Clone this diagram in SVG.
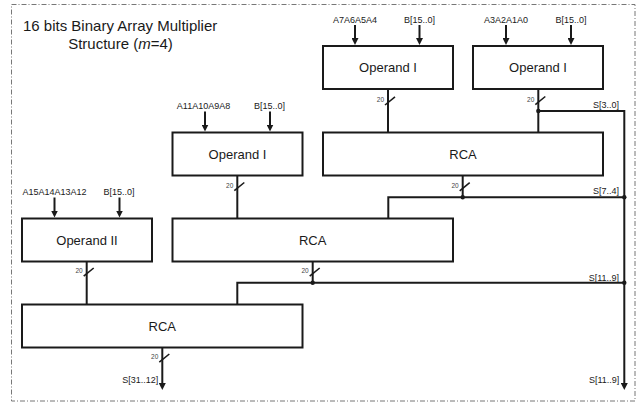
<svg xmlns="http://www.w3.org/2000/svg" width="639" height="403" viewBox="0 0 639 403">
<style>
  text { font-family: "Liberation Sans", Arial, sans-serif; fill: #1a1a1a; }
  .box { fill: #ffffff; stroke: #1a1a1a; stroke-width: 2; }
  .blabel { font-size: 13px; text-anchor: middle; }
  .in { font-size: 9px; text-anchor: middle; }
  .sig { font-size: 9px; text-anchor: end; }
  .w { font-size: 6.5px; text-anchor: end; fill: #444; }
  .ln { fill: none; stroke: #1a1a1a; stroke-width: 2; }
  .arr { fill: none; stroke: #1a1a1a; stroke-width: 2; marker-end: url(#ah); }
  .sl { stroke: #1a1a1a; stroke-width: 1.6; }
  .dot { fill: #1a1a1a; }
  .title { font-size: 15px; }
</style>
<defs>
  <marker id="ah" markerUnits="userSpaceOnUse" markerWidth="8" markerHeight="7" refX="3" refY="3.5" orient="auto">
    <path d="M0,0 L7,3.5 L0,7 z" fill="#1a1a1a"/>
  </marker>
</defs>
<rect x="0" y="0" width="639" height="403" fill="#ffffff"/>
<rect x="11.5" y="4.5" width="623.5" height="396.5" fill="none" stroke="#777" stroke-width="1" stroke-dasharray="5 2 1 2"/>

<g id="title">
  <text class="title" x="23" y="30.5">16 bits Binary Array Multiplier</text>
  <text class="title" x="120.5" y="49" text-anchor="middle">Structure (<tspan font-style="italic">m</tspan>=4)</text>
</g>

<g id="op1a">
  <rect class="box" x="323" y="46" width="130" height="43"/>
  <text class="blabel" x="388" y="72">Operand I</text>
  <text class="in" x="355" y="22.7">A7A6A5A4</text>
  <text class="in" x="419.5" y="22.7">B[15..0]</text>
</g>
<g id="op1b">
  <rect class="box" x="473" y="46" width="130" height="43"/>
  <text class="blabel" x="538" y="72">Operand I</text>
  <text class="in" x="506" y="22.7">A3A2A1A0</text>
  <text class="in" x="571" y="22.7">B[15..0]</text>
</g>
<g id="op1c">
  <rect class="box" x="172.5" y="132.5" width="130" height="43"/>
  <text class="blabel" x="237.5" y="158.5">Operand I</text>
  <text class="in" x="203.5" y="109.3">A11A10A9A8</text>
  <text class="in" x="269.5" y="109.3">B[15..0]</text>
</g>
<g id="rca1">
  <rect class="box" x="323" y="132.5" width="280" height="43"/>
  <text class="blabel" x="463" y="158.5">RCA</text>
</g>
<g id="op2">
  <rect class="box" x="22" y="218.5" width="130" height="43"/>
  <text class="blabel" x="87" y="244.5">Operand II</text>
  <text class="in" x="54.5" y="195.3">A15A14A13A12</text>
  <text class="in" x="119" y="195.3">B[15..0]</text>
</g>
<g id="rca2">
  <rect class="box" x="172.5" y="218.5" width="280.5" height="43"/>
  <text class="blabel" x="312.7" y="244.5">RCA</text>
</g>
<g id="rca3">
  <rect class="box" x="22" y="304.5" width="280.5" height="43"/>
  <text class="blabel" x="162.3" y="330.5">RCA</text>
</g>

<g id="connectors">
  <!-- inputs -->
  <line class="arr" x1="355" y1="25" x2="355" y2="41"/>
  <line class="arr" x1="419.5" y1="25" x2="419.5" y2="41"/>
  <line class="arr" x1="506" y1="25" x2="506" y2="41"/>
  <line class="arr" x1="571" y1="25" x2="571" y2="41"/>
  <line class="arr" x1="205" y1="111.5" x2="205" y2="127.5"/>
  <line class="arr" x1="270" y1="111.5" x2="270" y2="127.5"/>
  <line class="arr" x1="54.5" y1="197.5" x2="54.5" y2="213.5"/>
  <line class="arr" x1="119.5" y1="197.5" x2="119.5" y2="213.5"/>

  <!-- op1a -> rca1 -->
  <line class="ln" x1="388" y1="89" x2="388" y2="132.5"/>
  <line class="sl" x1="385" y1="105" x2="395" y2="96.8"/>
  <text class="w" x="384" y="101.8">20</text>

  <!-- op1b -> rca1, S[3..0] -->
  <line class="ln" x1="538.3" y1="89" x2="538.3" y2="132.5"/>
  <line class="sl" x1="535.3" y1="104.7" x2="545.3" y2="96.5"/>
  <text class="w" x="534.3" y="101.5">20</text>
  <polyline class="ln" points="538.3,111 624.3,111 624.3,385"/>
  <path d="M624.3,385 L624.3,386" class="arr"/>
  <text class="sig" x="619" y="108.3">S[3..0]</text>

  <!-- rca1 -> rca2, S[7..4] -->
  <line class="ln" x1="462.7" y1="175.5" x2="462.7" y2="197.3"/>
  <line class="sl" x1="459.7" y1="190.9" x2="469.7" y2="182.7"/>
  <text class="w" x="458.7" y="187.7">20</text>
  <polyline class="ln" points="624.3,197.3 388.3,197.3 388.3,218.5"/>
  <text class="sig" x="619" y="194.3">S[7..4]</text>

  <!-- op1c -> rca2 -->
  <line class="ln" x1="237.3" y1="175.5" x2="237.3" y2="218.5"/>
  <line class="sl" x1="234.3" y1="190.7" x2="244.3" y2="182.5"/>
  <text class="w" x="233.3" y="187.5">20</text>

  <!-- op2 -> rca3 -->
  <line class="ln" x1="86.7" y1="261.5" x2="86.7" y2="304.5"/>
  <line class="sl" x1="83.7" y1="276.2" x2="93.7" y2="268"/>
  <text class="w" x="82.7" y="273">20</text>

  <!-- rca2 -> rca3, S[11..9] -->
  <line class="ln" x1="312.7" y1="261.5" x2="312.7" y2="282.7"/>
  <line class="sl" x1="309.7" y1="276.2" x2="319.7" y2="268"/>
  <text class="w" x="308.7" y="273">20</text>
  <polyline class="ln" points="624.3,282.7 237.3,282.7 237.3,304.5"/>
  <text class="sig" x="619" y="280.5">S[11..9]</text>

  <!-- rca3 output -->
  <line class="arr" x1="162.3" y1="347.5" x2="162.3" y2="386"/>
  <line class="sl" x1="159.3" y1="362.2" x2="169.3" y2="354"/>
  <text class="w" x="158.3" y="359">20</text>
  <text class="sig" x="158.3" y="383">S[31..12]</text>
  <text class="sig" x="619.3" y="382.7">S[11..9]</text>

  <!-- junction dots -->
  <circle class="dot" cx="538.3" cy="111" r="2.2"/>
  <circle class="dot" cx="462.7" cy="197.3" r="2.2"/>
  <circle class="dot" cx="624.3" cy="197.3" r="2.2"/>
  <circle class="dot" cx="312.7" cy="282.7" r="2.2"/>
  <circle class="dot" cx="624.3" cy="282.7" r="2.2"/>
</g>
</svg>
